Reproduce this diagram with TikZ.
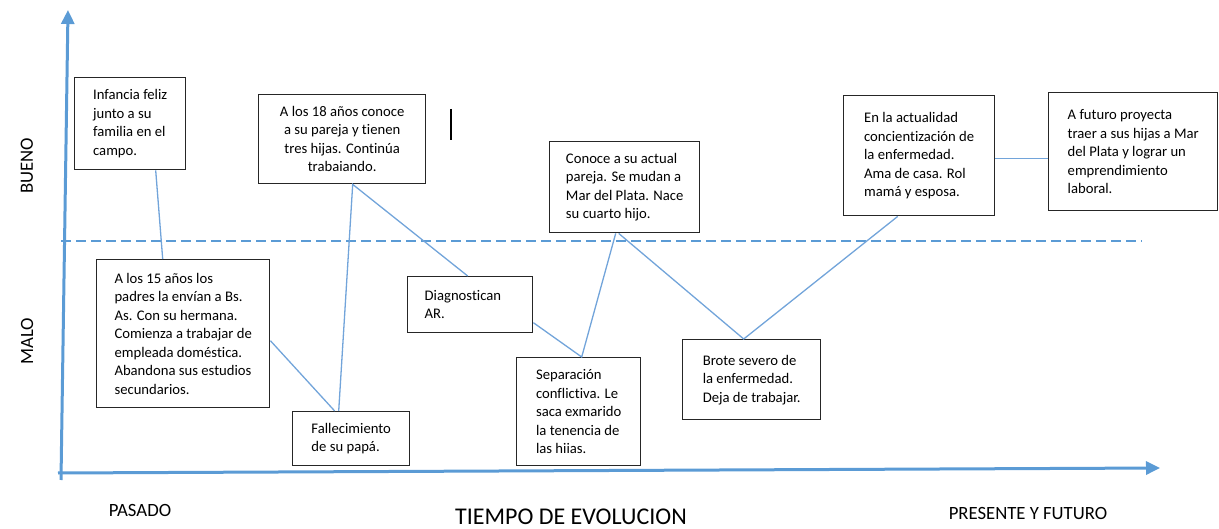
\documentclass[tikz,border=0pt]{standalone}
\usepackage{fontspec}
\setmainfont[Ligatures=NoCommon]{Carlito}
\usetikzlibrary{arrows.meta}
\definecolor{ejeazul}{HTML}{5B9BD5}
\definecolor{tramoazul}{HTML}{72A4DA}
\begin{document}
\begin{tikzpicture}[x=1pt,y=-1pt,
	evento/.style={draw=black!85,fill=white,line width=1.4pt,anchor=north west,align=left,inner sep=0pt,font=\fontsize{14.67}{18.5}\selectfont},
	tramo/.style={draw=tramoazul,line width=1.3pt},
	eje/.style={draw=ejeazul,line width=3pt,-{Triangle[length=14pt,width=13pt]}},
	rotulo/.style={font=\fontsize{18.7}{22}\selectfont}]
		\useasboundingbox (0,0) rectangle (1219,529);
		\draw[draw=ejeazul,line width=1.4pt,dash pattern=on 10pt off 5pt] (61,241) -- (1142,241);
		\draw (74,77) node[evento,minimum width=111pt,minimum height=92pt](infancia){Infancia feliz\\junto a su\\familia en el\\campo.};
		\draw (258,94) node[evento,align=center,minimum width=167pt,minimum height=89pt](dieciocho){A los 18 años conoce\\a su pareja y tienen\\tres hijas. Continúa\\trabaiando.};
		\draw (96,259) node[evento,minimum width=173pt,minimum height=148pt](quince){A los 15 años los\\padres la envían a Bs.\\As. Con su hermana.\\Comienza a trabajar de\\empleada doméstica.\\Abandona sus estudios\\secundarios.};
		\draw (292,411) node[evento,minimum width=117pt,minimum height=54pt](papa){Fallecimiento\\de su papá.};
		\draw (407,276) node[evento,minimum width=125pt,minimum height=56pt](diag){\makebox[91pt][l]{Diagnostican}\\AR.};
		\draw (549,141) node[evento,minimum width=150pt,minimum height=91pt](conoce){Conoce a su actual\\pareja. Se mudan a\\Mar del Plata. Nace\\su cuarto hijo.};
		\draw (516,357) node[evento,minimum width=124pt,minimum height=108pt](separa){Separación\\conflictiva. Le\\saca exmarido\\la tenencia de\\las hiias.};
		\draw (682,339) node[evento,minimum width=138pt,minimum height=80pt](brote){Brote severo de\\la enfermedad.\\Deja de trabajar.};
		\draw (843,95) node[evento,minimum width=151pt,minimum height=120pt](actual){En la actualidad\\concientización de\\la enfermedad.\\Ama de casa. Rol\\mamá y esposa.};
		\draw (1048,92) node[evento,minimum width=169pt,minimum height=118pt](futuro){A futuro proyecta\\traer a sus hijas a Mar\\del Plata y lograr un\\emprendimiento\\laboral.};
		\draw[tramo] ([xshift=25.5pt]infancia.south) -- ([xshift=-20.5pt]quince.north);
		\draw[tramo] ([yshift=-7pt]quince.east) -- ([xshift=-16.5pt]papa.north);
		\draw[tramo] ([xshift=-12.5pt]papa.north) -- ([xshift=10.5pt]dieciocho.south) -- ([xshift=-2.5pt]diag.north);
		\draw[tramo] ([yshift=-18pt]diag.east) -- ([xshift=3pt]separa.north) -- ([xshift=-9pt]conoce.south);
		\draw[tramo] ([xshift=-6pt]conoce.south) -- ([xshift=-8pt]brote.north) -- ([xshift=-21.5pt]actual.south);
		\draw[tramo] ([yshift=-3pt]actual.east) -- ([yshift=-7pt]futuro.west);
		\draw[line width=1.2pt] (451,109) -- (451,140);
		\draw[eje] (61,480) -- (68,10);
		\draw[eje] (58,473) -- (1160,468);
		\draw (27,166) node[rotulo,rotate=90](bueno){BUENO} (27,341) node[rotulo,rotate=90](malo){MALO};
		\draw (140,510) node[rotulo](pasado){PASADO} (1028,513) node[rotulo](presente){PRESENTE Y FUTURO};
		\draw (571,517) node[font=\fontsize{24}{28}\selectfont](tiempo){TIEMPO DE EVOLUCION};
	\end{tikzpicture}
\end{document}
